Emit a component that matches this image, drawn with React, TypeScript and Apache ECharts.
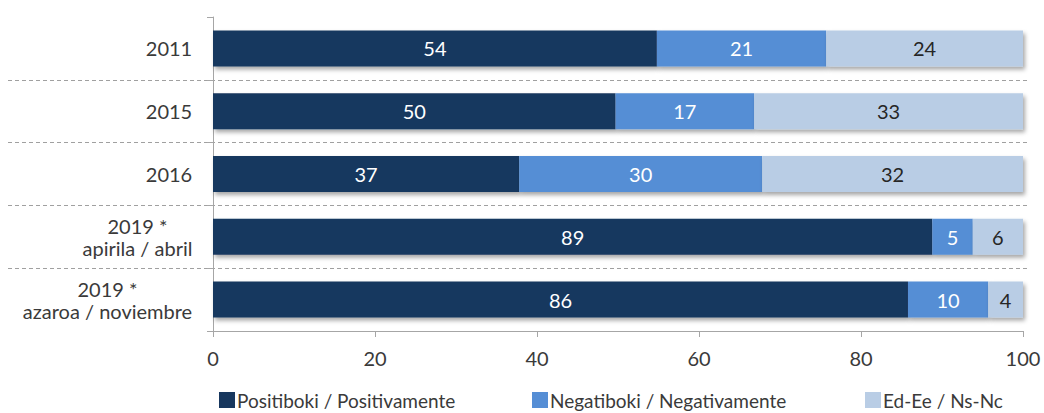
import React, { useEffect, useRef } from "react";
import * as echarts from "echarts";

const categories = ["2011", "2015", "2016", "2019 *\napirila / abril", "2019 *\nazaroa / noviembre"];
const seriesNames = ["Positiboki / Positivamente", "Negatiboki / Negativamente", "Ed-Ee / Ns-Nc"];
// bar lengths as drawn
const positive = [54.8, 49.7, 37.8, 88.8, 85.8];
const negative = [20.9, 17.1, 30.0, 5.0, 9.9];
const dontKnow = [24.3, 33.2, 32.2, 6.2, 4.3];
// labels as printed
const positiveLabels = [54, 50, 37, 89, 86];
const negativeLabels = [21, 17, 30, 5, 10];
const dontKnowLabels = [24, 33, 32, 6, 4];
const xTicks = { min: 0, max: 100, interval: 20 };

const colors = ["#17375E", "#558ED5", "#B9CDE5"];
const FONT = "Lato";
const FS = 20;

function measure(text: string): number {
  const c = document.createElement("canvas").getContext("2d");
  if (!c) return text.length * 10;
  c.font = `${FS}px ${FONT}`;
  return c.measureText(text).width;
}

export default function App() {
  const ref = useRef<HTMLDivElement>(null);
  useEffect(() => {
    if (!ref.current) return;
    const chart = echarts.init(ref.current, null, { renderer: "svg" });
    const rich: Record<string, any> = {};
    categories.forEach((c, i) => {
      const w = Math.max(...c.split("\n").map(measure));
      rich["c" + i] = { width: Math.ceil(w) + 1, align: "center", fontSize: FS, fontFamily: FONT, color: "#3a3a3a", lineHeight: 22 };
    });
    const shadow = {
      shadowColor: "rgba(0,0,0,0.35)",
      shadowBlur: 4,
      shadowOffsetX: 2,
      shadowOffsetY: 3,
    };
    const mk = (i: number, data: number[], labels: number[], labelColor: string) => ({
      type: "bar",
      name: seriesNames[i],
      stack: "total",
      xAxisIndex: 0,
      yAxisIndex: 0,
      barWidth: 36,
      data,
      itemStyle: { color: colors[i], ...shadow },
      label: {
        show: true,
        position: "inside",
        color: labelColor,
        fontSize: FS,
        fontFamily: FONT,
        formatter: (p: any) => String(labels[p.dataIndex]),
      },
    });
    chart.setOption({
      animation: false,
      textStyle: { fontFamily: FONT },
      grid: [
        { left: 213, right: 21, top: 17, height: 314 },
        { left: 8, right: 16, top: 17, height: 314 },
      ],
      xAxis: [
        {
          type: "value",
          gridIndex: 0,
          min: xTicks.min,
          max: xTicks.max,
          interval: xTicks.interval,
          axisLine: { show: true, lineStyle: { color: "#a6a6a6" } },
          axisTick: { show: true, length: 6, lineStyle: { color: "#a6a6a6" } },
          axisLabel: { fontSize: FS, fontFamily: FONT, color: "#3a3a3a", margin: 17 },
          splitLine: { show: false },
        },
        { type: "value", gridIndex: 1, min: 0, max: 1, show: false },
      ],
      yAxis: [
        {
          type: "category",
          gridIndex: 0,
          inverse: true,
          data: categories,
          axisLine: { show: true, lineStyle: { color: "#a6a6a6" } },
          axisTick: { show: true, length: 6, lineStyle: { color: "#a6a6a6" } },
          axisLabel: {
            margin: 20,
            fontSize: FS,
            fontFamily: FONT,
            color: "#3a3a3a",
            formatter: (v: string, idx: number) =>
              v.split("\n").map((l) => `{c${idx}|${l}}`).join("\n"),
            rich,
          },
        },
        {
          type: "value",
          gridIndex: 1,
          min: 0,
          max: 5,
          interval: 1,
          axisLine: { show: false },
          axisTick: { show: false },
          axisLabel: { show: false },
          splitLine: {
            show: true,
            showMinLine: false,
            showMaxLine: false,
            lineStyle: { color: "#a0a0a0", type: [4, 3], width: 1 },
          },
        },
      ],
      legend: seriesNames.map((n, i) => ({
        data: [n],
        left: [219, 532, 865][i],
        top: 390,
        itemWidth: 16,
        itemHeight: 16,
        icon: "rect",
        padding: 0,
        textStyle: { fontSize: 19, lineHeight: 20, fontFamily: FONT, color: "#3a3a3a", padding: [0, 0, 0, -3] },
      })),
      series: [
        mk(0, positive, positiveLabels, "#ffffff"),
        mk(1, negative, negativeLabels, "#ffffff"),
        mk(2, dontKnow, dontKnowLabels, "#262626"),
      ],
    });
    return () => chart.dispose();
  }, []);
  return <div ref={ref} style={{ width: 1044, height: 413, position: "absolute", left: 0, top: 0 }} />;
}
